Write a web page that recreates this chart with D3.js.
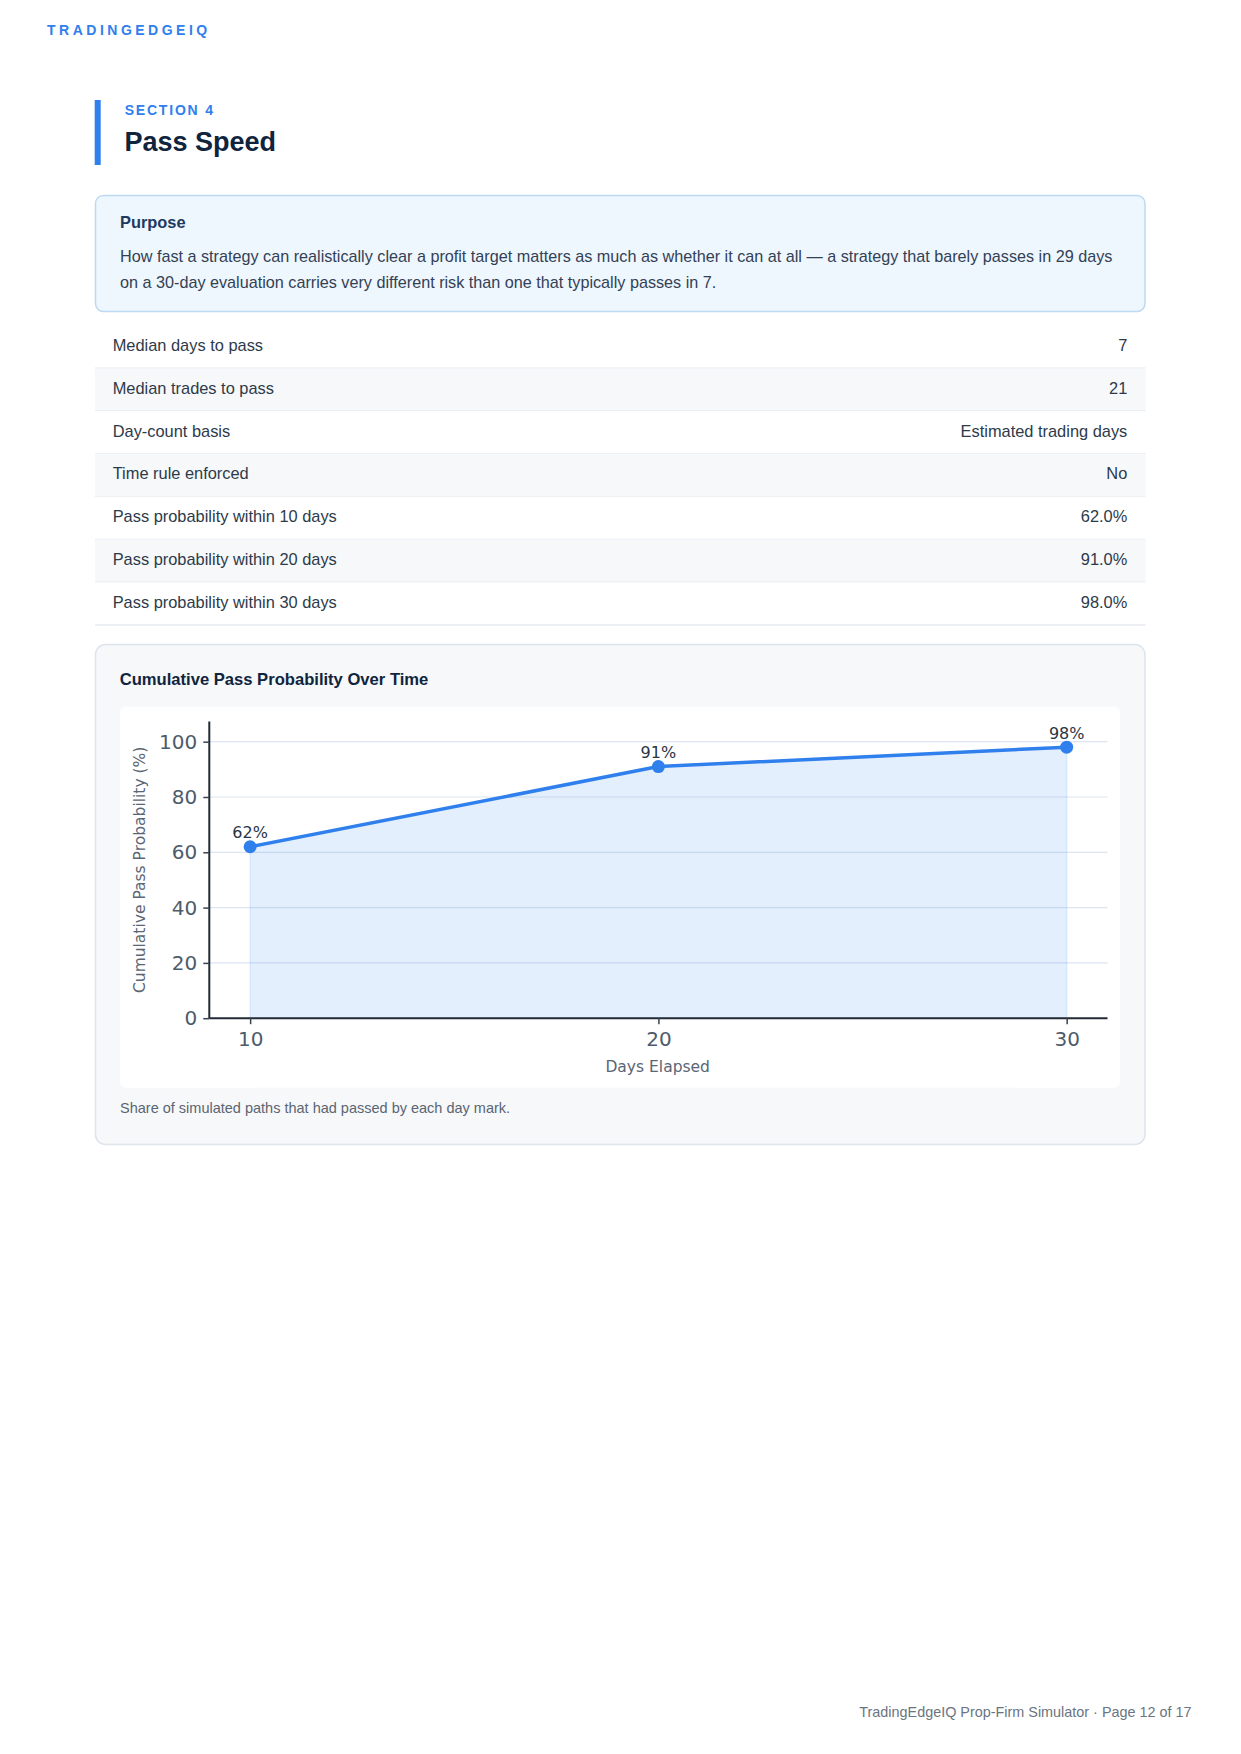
<!DOCTYPE html>
<html>
<head>
<meta charset="utf-8">
<script src="https://cdn.jsdelivr.net/npm/d3@7"></script>
<style>
  html, body { margin: 0; padding: 0; background: #ffffff; }
  svg { display: block; }
  .page { font-family: "Liberation Sans", Arial, Helvetica, sans-serif; }
  .chart { font-family: "DejaVu Sans", sans-serif; }
</style>
</head>
<body>
<svg id="page" width="1241" height="1754"></svg>
<script>
// ---------- data ----------
const brand = "TRADINGEDGEIQ";
const sectionLabel = "SECTION 4";
const sectionTitle = "Pass Speed";
const purposeTitle = "Purpose";
const purposeLines = [
  "How fast a strategy can realistically clear a profit target matters as much as whether it can at all \u2014 a strategy that barely passes in 29 days",
  "on a 30-day evaluation carries very different risk than one that typically passes in 7."
];
const statLabels = [
  "Median days to pass",
  "Median trades to pass",
  "Day-count basis",
  "Time rule enforced",
  "Pass probability within 10 days",
  "Pass probability within 20 days",
  "Pass probability within 30 days"
];
const statValues = ["7", "21", "Estimated trading days", "No", "62.0%", "91.0%", "98.0%"];
const chartTitle = "Cumulative Pass Probability Over Time";
const days = [10, 20, 30];
const passProb = [62, 91, 98];
const xTicks = [10, 20, 30];
const yTicks = [0, 20, 40, 60, 80, 100];
const xTitle = "Days Elapsed";
const yTitle = "Cumulative Pass Probability (%)";
const caption = "Share of simulated paths that had passed by each day mark.";
const footer = "TradingEdgeIQ Prop-Firm Simulator \u00b7 Page 12 of 17";

// ---------- page ----------
const svg = d3.select("#page");
const page = svg.append("g").attr("class", "page");
const blue = "#2f80ed";
const navy = "#10243e";

page.append("text").attr("x", 47).attr("y", 35)
  .attr("font-size", 14).attr("font-weight", "bold").attr("letter-spacing", 3.5)
  .attr("fill", blue).text(brand);

page.append("rect").attr("x", 94.7).attr("y", 100).attr("width", 6).attr("height", 65).attr("fill", blue);
page.append("text").attr("x", 124.7).attr("y", 115.3)
  .attr("font-size", 14).attr("font-weight", "bold").attr("letter-spacing", 1.8)
  .attr("fill", blue).text(sectionLabel);
page.append("text").attr("x", 124.5).attr("y", 150.5)
  .attr("font-size", 27).attr("font-weight", "bold").attr("fill", navy).text(sectionTitle);

// purpose box
page.append("rect").attr("x", 95.5).attr("y", 195.5).attr("width", 1049.5).attr("height", 116)
  .attr("rx", 8).attr("fill", "#eef6fe").attr("stroke", "#bdd9f3").attr("stroke-width", 1.5);
page.append("text").attr("x", 120).attr("y", 227.7)
  .attr("font-size", 16.4).attr("font-weight", "bold").attr("fill", "#1e3a5f").text(purposeTitle);
page.selectAll("text.pline").data(purposeLines).join("text").attr("class", "pline")
  .attr("x", 120).attr("y", (d, i) => 261.7 + i * 25.8)
  .attr("font-size", 16.2).attr("fill", "#334155").text(d => d);

// stats table
const rowTop = 325.5, rowH = 42.8;
const rows = page.selectAll("g.row").data(statLabels).join("g").attr("class", "row")
  .attr("transform", (d, i) => `translate(0,${rowTop + i * rowH})`);
rows.append("rect").attr("x", 95).attr("y", 0).attr("width", 1050.5).attr("height", rowH)
  .attr("fill", (d, i) => i % 2 === 1 ? "#f6f8fa" : "#ffffff");
rows.append("line").attr("x1", 95).attr("x2", 1145.5).attr("y1", rowH).attr("y2", rowH)
  .attr("stroke", "#e6ebf0").attr("stroke-width", 1.5);
rows.append("text").attr("x", 112.7).attr("y", 25.5)
  .attr("font-size", 16.4).attr("fill", "#2d3a4a").text(d => d);
rows.append("text").attr("x", 1127.3).attr("y", 25.5).attr("text-anchor", "end")
  .attr("font-size", 16.4).attr("fill", "#2d3a4a").text((d, i) => statValues[i]);

// chart card
page.append("rect").attr("x", 95.5).attr("y", 644.5).attr("width", 1049.5).attr("height", 500)
  .attr("rx", 10).attr("fill", "#f6f8fa").attr("stroke", "#dde4ec").attr("stroke-width", 1.5);
page.append("text").attr("x", 119.7).attr("y", 685)
  .attr("font-size", 16.6).attr("font-weight", "bold").attr("fill", navy).text(chartTitle);
page.append("rect").attr("x", 120).attr("y", 706.7).attr("width", 1000).attr("height", 381)
  .attr("rx", 6).attr("fill", "#ffffff");
page.append("text").attr("x", 120).attr("y", 1113.3)
  .attr("font-size", 14.5).attr("fill", "#5b6573").text(caption);
page.append("text").attr("x", 1191.5).attr("y", 1717.3).attr("text-anchor", "end")
  .attr("font-size", 14.4).attr("fill", "#6b7480").text(footer);

// ---------- chart ----------
const chart = svg.append("g").attr("class", "chart");
const x = d3.scaleLinear().domain([9, 31]).range([209.3, 1107.5]);
const y = d3.scaleLinear().domain([0, 107.3]).range([1018.2, 721.5]);
const pts = days.map((d, i) => ({ d, v: passProb[i] }));

// gridlines
chart.selectAll("line.grid").data(yTicks.filter(t => t > 0)).join("line").attr("class", "grid")
  .attr("x1", x.range()[0]).attr("x2", x.range()[1])
  .attr("y1", d => y(d)).attr("y2", d => y(d))
  .attr("stroke", "#dce5f0").attr("stroke-width", 1.2);

// area + line
chart.append("path").datum(pts)
  .attr("d", d3.area().x(p => x(p.d)).y0(y(0)).y1(p => y(p.v)))
  .attr("fill", "rgba(47,128,237,0.13)").attr("stroke", "rgba(47,128,237,0.12)").attr("stroke-width", 1.5);
chart.append("path").datum(pts)
  .attr("d", d3.line().x(p => x(p.d)).y(p => y(p.v)))
  .attr("fill", "none").attr("stroke", blue).attr("stroke-width", 3.5).attr("stroke-linejoin", "round");
chart.selectAll("circle.pt").data(pts).join("circle").attr("class", "pt")
  .attr("cx", p => x(p.d)).attr("cy", p => y(p.v)).attr("r", 6.5).attr("fill", blue);
chart.selectAll("text.lbl").data(pts).join("text").attr("class", "lbl")
  .attr("x", p => x(p.d)).attr("y", p => y(p.v) - 8.5).attr("text-anchor", "middle")
  .attr("font-size", 16).attr("fill", "#2a3445").text(p => p.v + "%");

// axes
const xAxis = d3.axisBottom(x).tickValues(xTicks).tickSize(6).tickPadding(8).tickSizeOuter(0);
const yAxis = d3.axisLeft(y).tickValues(yTicks).tickSize(6).tickPadding(6).tickSizeOuter(0);
const gx = chart.append("g").attr("transform", `translate(0,${y(0)})`).call(xAxis);
const gy = chart.append("g").attr("transform", `translate(${x.range()[0]},0)`).call(yAxis);
[gx, gy].forEach(g => {
  g.select(".domain").attr("stroke", "#222a35").attr("stroke-width", 2);
  g.selectAll(".tick line").attr("stroke", "#3a4350").attr("stroke-width", 1.5);
  g.selectAll(".tick text").attr("font-family", "DejaVu Sans, sans-serif").attr("font-size", 20).attr("fill", "#4d5b6b");
});
gy.select(".domain").attr("d", `M0,${y.range()[1]}V${y.range()[0]}`);
gx.select(".domain").attr("d", `M${x.range()[0]},0H${x.range()[1]}`);

chart.append("text").attr("x", 657.7).attr("y", 1071.7).attr("text-anchor", "middle")
  .attr("font-size", 15.5).attr("fill", "#5a6575").text(xTitle);
chart.append("text").attr("transform", `translate(144.5,${(y.range()[0] + y.range()[1]) / 2}) rotate(-90)`)
  .attr("text-anchor", "middle").attr("font-size", 15.5).attr("fill", "#5a6575").text(yTitle);
</script>
</body>
</html>
